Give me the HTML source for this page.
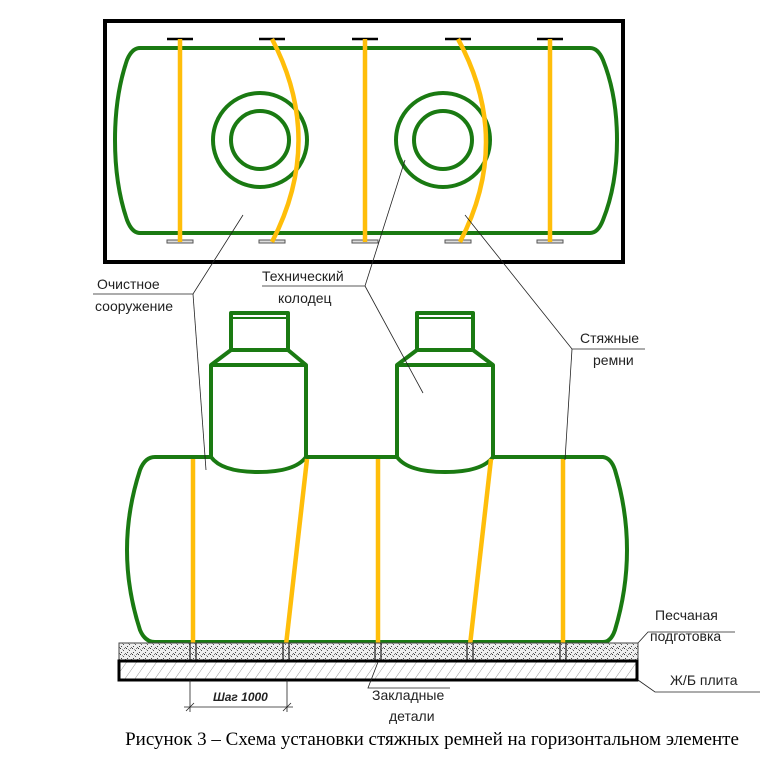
<!DOCTYPE html>
<html><head><meta charset="utf-8"><style>
html,body{margin:0;padding:0;background:#fff;width:765px;height:758px;overflow:hidden}
svg{display:block}
.g{fill:none;stroke:#1a7a12;stroke-width:4;stroke-linejoin:round}
.y{fill:none;stroke:#ffbe0a;stroke-width:4.5}
.l{fill:none;stroke:#222;stroke-width:0.8}
.t{font-family:"Liberation Sans",sans-serif;font-size:14px;fill:#222}
</style></head><body>
<svg width="765" height="758" viewBox="0 0 765 758">
<defs>
<pattern id="sand" width="6" height="6" patternUnits="userSpaceOnUse">
<rect width="6" height="6" fill="#eee"/>
<rect x="0" y="0" width="1" height="1" fill="#333"/><rect x="3" y="2" width="1" height="1" fill="#555"/>
<rect x="1" y="4" width="1" height="1" fill="#444"/><rect x="5" y="5" width="1" height="1" fill="#666"/>
<rect x="4" y="0" width="1" height="1" fill="#777"/><rect x="2" y="1" width="1" height="1" fill="#999"/>
</pattern>
<pattern id="hatch" width="10" height="20" patternUnits="userSpaceOnUse" patternTransform="skewX(-35)">
<rect width="10" height="20" fill="#fff"/><line x1="0" y1="0" x2="0" y2="20" stroke="#666" stroke-width="0.8"/>
</pattern>
</defs>
<!-- top view -->
<rect x="105" y="21" width="518" height="241" fill="none" stroke="#000" stroke-width="4"/>
<path class="g" d="M140,48 L590,48 Q598,48 603,60 Q617,95 617,140 Q617,185 603,220 Q598,233 590,233 L140,233 Q132,233 127,220 Q115,185 115,140 Q115,95 127,60 Q132,48 140,48 Z"/>
<circle class="g" cx="260" cy="140" r="47"/><circle class="g" cx="260" cy="140" r="29"/>
<circle class="g" cx="443" cy="140" r="47"/><circle class="g" cx="443" cy="140" r="29"/>
<g stroke="#000" stroke-width="2.5">
<line x1="167" y1="39" x2="193" y2="39"/><line x1="259" y1="39" x2="285" y2="39"/><line x1="352" y1="39" x2="378" y2="39"/><line x1="445" y1="39" x2="471" y2="39"/><line x1="537" y1="39" x2="563" y2="39"/>
</g>
<g fill="#ddd" stroke="#555" stroke-width="1">
<rect x="167" y="240" width="26" height="3"/><rect x="259" y="240" width="26" height="3"/><rect x="352" y="240" width="26" height="3"/><rect x="445" y="240" width="26" height="3"/><rect x="537" y="240" width="26" height="3"/>
</g>
<line class="y" x1="180" y1="39" x2="180" y2="242"/>
<path class="y" d="M272,39 Q325,140 272,242"/>
<line class="y" x1="365" y1="39" x2="365" y2="242"/>
<path class="y" d="M458,39 Q513,140 460,242"/>
<line class="y" x1="550" y1="39" x2="550" y2="242"/>
<!-- side view -->
<path class="g" d="M155,457 L603,457 Q611,458 615,470 Q627,510 627,550 Q627,590 615,630 Q611,642 603,642 L155,642 Q145,642 140,630 Q127,590 127,550 Q127,510 140,470 Q145,457 155,457 Z"/>
<path class="g" style="fill:#fff" d="M211,457 L211,365 L231,350 L231,313 L288,313 L288,350 L306,365 L306,457 Q295,472 258,472 Q222,472 211,457 Z"/>
<path class="g" d="M231,350 L288,350 M211,365 L306,365"/><line x1="233" y1="318" x2="286" y2="318" stroke="#1a7a12" stroke-width="2"/>
<path class="g" style="fill:#fff" d="M397,457 L397,365 L417,350 L417,313 L473,313 L473,350 L493,365 L493,457 Q482,472 445,472 Q408,472 397,457 Z"/>
<path class="g" d="M417,350 L473,350 M397,365 L493,365"/><line x1="419" y1="318" x2="471" y2="318" stroke="#1a7a12" stroke-width="2"/>
<line class="y" x1="193" y1="459" x2="193" y2="645"/>
<line class="y" x1="307" y1="459" x2="286" y2="645"/>
<line class="y" x1="378" y1="459" x2="378" y2="645"/>
<line class="y" x1="491" y1="459" x2="470" y2="645"/>
<line class="y" x1="563" y1="459" x2="563" y2="645"/>
<rect x="119" y="643" width="519" height="17" fill="url(#sand)" stroke="#444" stroke-width="1"/>
<g stroke="#222" stroke-width="1.2">
<line x1="190" y1="643" x2="190" y2="660"/><line x1="196" y1="643" x2="196" y2="660"/>
<line x1="283" y1="643" x2="283" y2="660"/><line x1="289" y1="643" x2="289" y2="660"/>
<line x1="375" y1="643" x2="375" y2="660"/><line x1="381" y1="643" x2="381" y2="660"/>
<line x1="467" y1="643" x2="467" y2="660"/><line x1="473" y1="643" x2="473" y2="660"/>
<line x1="560" y1="643" x2="560" y2="660"/><line x1="566" y1="643" x2="566" y2="660"/>
</g>
<rect x="119" y="661" width="518" height="19" fill="url(#hatch)" stroke="#000" stroke-width="3"/>
<!-- dimension -->
<line class="l" x1="190" y1="680" x2="190" y2="712"/><line class="l" x1="287" y1="680" x2="287" y2="712"/>
<line class="l" x1="184" y1="707" x2="293" y2="707"/>
<line class="l" x1="186" y1="711" x2="194" y2="703"/><line class="l" x1="283" y1="711" x2="291" y2="703"/>
<text x="213" y="701" class="t" style="font-size:12px;font-style:italic;font-weight:bold">Шаг 1000</text>
<!-- leaders -->
<polyline class="l" points="243,215 193,294 93,294"/><line class="l" x1="193" y1="294" x2="206" y2="470"/>
<polyline class="l" points="405,160 365,286 262,286"/><line class="l" x1="365" y1="286" x2="423" y2="393"/>
<polyline class="l" points="465,215 572,349 645,349"/><line class="l" x1="572" y1="349" x2="565" y2="460"/>
<polyline class="l" points="638,643 648,632 735,632"/>
<polyline class="l" points="638,680 655,692 760,692"/>
<polyline class="l" points="378,662 368,688 450,688"/>
<text x="97" y="289" class="t">Очистное</text><text x="95" y="311" class="t">сооружение</text>
<text x="262" y="281" class="t">Технический</text><text x="278" y="303" class="t">колодец</text>
<text x="580" y="343" class="t">Стяжные</text><text x="593" y="365" class="t">ремни</text>
<text x="655" y="620" class="t">Песчаная</text><text x="650" y="641" class="t">подготовка</text>
<text x="670" y="685" class="t">Ж/Б плита</text>
<text x="372" y="700" class="t">Закладные</text><text x="389" y="721" class="t">детали</text>
<text x="432" y="745" text-anchor="middle" style="font-family:'Liberation Serif',serif;font-size:19px;fill:#000">Рисунок 3 – Схема установки стяжных ремней на горизонтальном элементе</text>
</svg>
</body></html>
